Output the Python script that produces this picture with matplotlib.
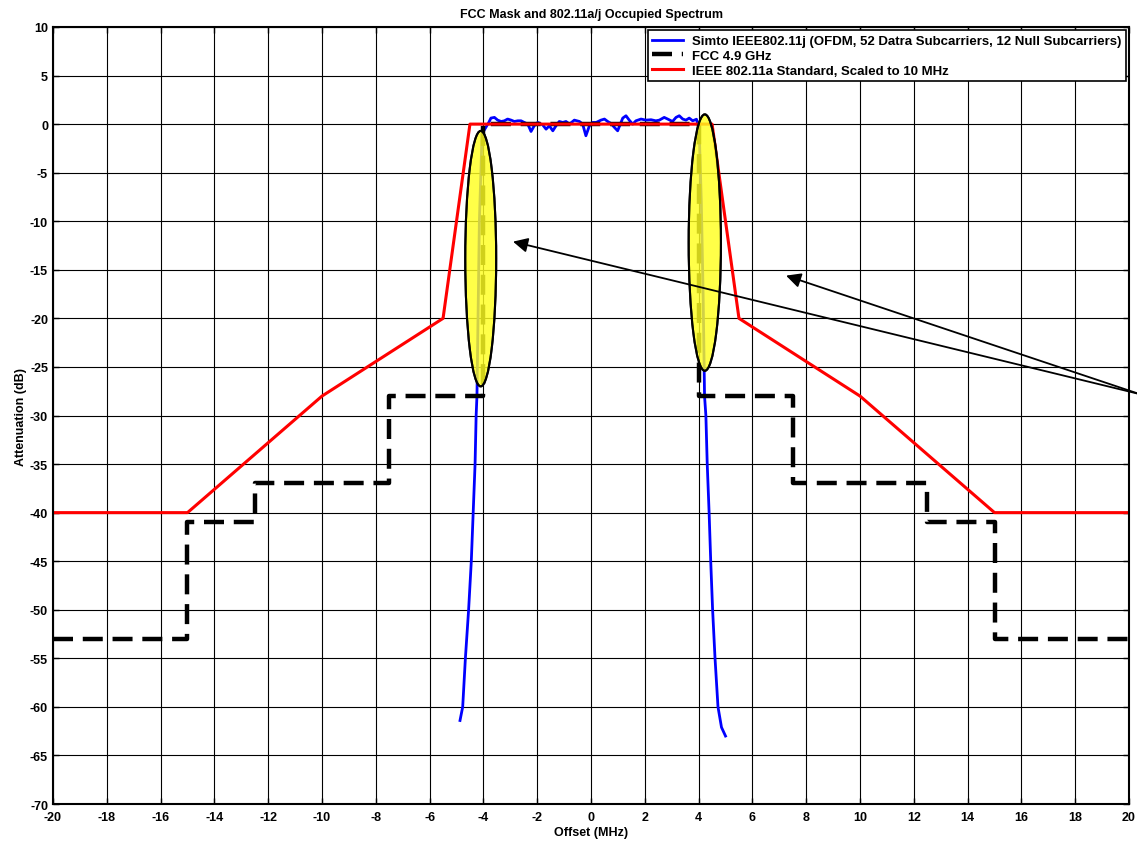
import numpy as np
import matplotlib
matplotlib.use("Agg")
import matplotlib.pyplot as plt
from matplotlib.patches import Ellipse

plt.rcParams['font.family'] = ['Liberation Sans', 'DejaVu Sans']
plt.rcParams['font.weight'] = 'bold'
plt.rcParams['axes.unicode_minus'] = False

# ======================================================
# Data
# ======================================================
# simulated 802.11j spectrum (MHz, dB)
sim_x = [-4.87, -4.77, -4.67, -4.55, -4.45, -4.38, -4.31, -4.27, -4.24, -4.2, -4.15, -4.05,
         -3.80, -3.72, -3.59, -3.47, -3.34, -3.22, -3.10, -2.97, -2.85, -2.72, -2.60, -2.48,
         -2.35, -2.23, -2.11, -1.98, -1.80, -1.67, -1.55, -1.42, -1.30, -1.18, -1.05, -0.93,
         -0.80, -0.62, -0.43, -0.31, -0.19, -0.06, 0.06, 0.19, 0.37, 0.50, 0.62, 0.74,
         0.87, 0.99, 1.05, 1.18, 1.30, 1.42, 1.55, 1.67, 1.86, 2.04, 2.23, 2.41,
         2.54, 2.72, 2.85, 3.03, 3.16, 3.28, 3.41, 3.53, 3.65, 3.78, 3.92, 4.02,
         4.10, 4.17, 4.22, 4.27, 4.32, 4.39, 4.45, 4.52, 4.61, 4.72, 4.85, 5.0]
sim_y = [-61.4, -60.0, -55.0, -50.0, -45.0, -40.0, -35.0, -30.0, -28.0, -20.0, -10.0, -1.0,
         0.17, 0.62, 0.69, 0.41, 0.27, 0.34, 0.52, 0.41, 0.27, 0.34, 0.34, 0.17,
         0.0, -0.76, -0.17, 0.17, -0.07, -0.52, -0.17, -0.69, -0.17, 0.27, 0.17, 0.27,
         0.0, 0.41, 0.27, 0.0, -1.20, -0.17, 0.17, 0.17, 0.41, 0.52, 0.27, 0.07,
         -0.34, -0.69, -0.27, 0.62, 0.86, 0.41, 0.0, 0.34, 0.52, 0.41, 0.45, 0.34,
         0.41, 0.69, 0.52, 0.27, 0.69, 0.86, 0.52, 0.41, 0.62, 0.34, 0.5, -0.5,
         -8.0, -18.0, -28.0, -30.0, -35.0, -40.0, -45.0, -50.0, -55.0, -60.0, -62.1, -63.0]

# FCC 4.9 GHz mask
fcc_x = [-20, -15, -15, -12.5, -12.5, -7.5, -7.5, -4, -4, 4, 4, 7.5, 7.5, 12.5, 12.5, 15, 15, 20]
fcc_y = [-53, -53, -41, -41, -37, -37, -28, -28, 0, 0, -28, -28, -37, -37, -41, -41, -53, -53]

# IEEE 802.11a mask scaled to 10 MHz
ieee_x = [-20, -15, -10, -5.5, -4.5, 4.5, 5.5, 10, 15, 20]
ieee_y = [-40, -40, -28, -20, 0, 0, -20, -28, -40, -40]

# highlight ellipses: (center x, center y, width, height)
ell_left = (-4.1, -13.85, 1.15, 26.3)
ell_right = (4.23, -12.2, 1.2, 26.4)

# arrows: tail and heads
arrow_tail = (20.4, -27.8)
arrow_heads = [(-2.9, -12.1), (7.25, -15.6)]

# ======================================================
# PLOT
# ======================================================
fig = plt.figure(figsize=(11.37, 8.45), dpi=100)
ax = fig.add_axes([0.0466, 0.0473, 0.9464, 0.9196])

ax.plot(sim_x, sim_y, color='#0000ff', linewidth=2.0,
        label="Simto IEEE802.11j (OFDM, 52 Datra Subcarriers, 12 Null Subcarriers)")
ax.plot(fcc_x, fcc_y, color='black', linewidth=3.2, linestyle=(0, (4.5, 2.2)),
        label="FCC 4.9 GHz")
ax.plot(ieee_x, ieee_y, color='#ff0000', linewidth=2.2,
        label="IEEE 802.11a Standard, Scaled to 10 MHz")

for cx, cy, w, h in [ell_left, ell_right]:
    ax.add_patch(Ellipse((cx, cy), w, h, facecolor='#ffff20', edgecolor='black',
                         linewidth=1.5, alpha=0.82, zorder=5))
    ax.add_patch(Ellipse((cx, cy), w, h, facecolor='none', edgecolor='black',
                         linewidth=1.5, zorder=6))

for hx, hy in arrow_heads:
    ax.annotate("", xy=(hx, hy), xytext=arrow_tail, annotation_clip=False,
                arrowprops=dict(arrowstyle='-|>', color='black', lw=1.3,
                                mutation_scale=22, shrinkA=0, shrinkB=0), zorder=7)

ax.set_xlim(-20, 20)
ax.set_ylim(-70, 10)
ax.set_xticks(np.arange(-20, 21, 2))
ax.set_yticks(np.arange(-70, 11, 5))
ax.tick_params(direction='in', labelsize=9, top=True, right=True, length=4, width=1)
ax.tick_params(axis='x', pad=5)
for lbl in ax.get_xticklabels() + ax.get_yticklabels():
    lbl.set_fontweight('bold')
ax.grid(True, color='black', linewidth=0.8)
for s in ax.spines.values():
    s.set_linewidth(1.5)

ax.set_title("FCC Mask and 802.11a/j Occupied Spectrum", fontsize=9, fontweight='bold', pad=7)
ax.set_xlabel("Offset (MHz)", fontsize=9, fontweight='bold', labelpad=2)
ax.set_ylabel("Attenuation (dB)", fontsize=9, fontweight='bold', labelpad=2)

leg = ax.legend(loc='upper right', frameon=True, fancybox=False,
                borderpad=0.35, labelspacing=0.2, handlelength=2.3, handletextpad=0.7,
                borderaxespad=0.25, prop={'weight': 'bold', 'size': 9.5})
leg.get_frame().set_edgecolor('black')
leg.get_frame().set_linewidth(1.2)
leg.get_frame().set_alpha(1)
leg.set_zorder(10)

plt.savefig("out.png", dpi=100)
